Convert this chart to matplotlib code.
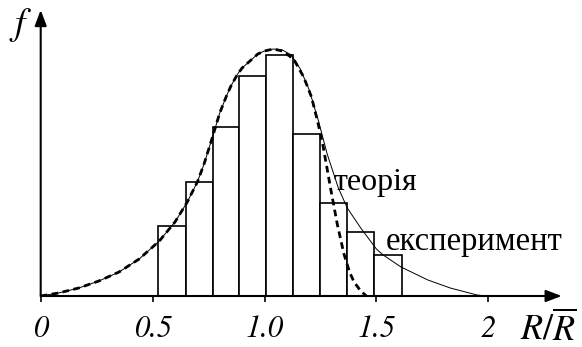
import numpy as np
import matplotlib
matplotlib.use('Agg')
import matplotlib.pyplot as plt

plt.rcParams['font.family'] = ['Liberation Serif', 'DejaVu Serif']
plt.rcParams['mathtext.fontset'] = 'stix'

# histogram (experiment)
bin_edges = [0.524, 0.648, 0.769, 0.885, 1.008, 1.126, 1.247, 1.369, 1.491, 1.615]
bar_heights = [0.70, 1.14, 1.69, 2.20, 2.41, 1.62, 0.93, 0.64, 0.41]

# thin solid curve
solid_x = [0.0, 0.08, 0.17, 0.26, 0.35, 0.44, 0.53, 0.60, 0.655, 0.70, 0.73, 0.769,
           0.80, 0.83, 0.85, 0.88, 0.90, 0.94, 0.97, 1.00, 1.04, 1.08, 1.12, 1.16,
           1.20, 1.24, 1.28, 1.33, 1.37, 1.43, 1.50, 1.53, 1.61, 1.73, 1.83, 1.95, 1.99]
solid_y = [0.0, 0.03, 0.08, 0.15, 0.24, 0.37, 0.55, 0.74, 0.94, 1.14, 1.32, 1.60,
           1.83, 2.00, 2.10, 2.22, 2.28, 2.36, 2.42, 2.45, 2.47, 2.46, 2.41, 2.27,
           2.06, 1.76, 1.42, 1.08, 0.88, 0.68, 0.47, 0.41, 0.29, 0.16, 0.08, 0.01, 0.0]

# thick dashed curve
dash_x = [0.0, 0.08, 0.17, 0.26, 0.35, 0.44, 0.53, 0.60, 0.655, 0.70, 0.73, 0.769,
          0.80, 0.83, 0.85, 0.88, 0.90, 0.94, 0.97, 1.00, 1.04, 1.08, 1.13, 1.175,
          1.21, 1.24, 1.26, 1.28, 1.295, 1.325, 1.355, 1.38, 1.40, 1.43, 1.455]
dash_y = [0.0, 0.03, 0.08, 0.15, 0.24, 0.37, 0.55, 0.74, 0.94, 1.14, 1.32, 1.60,
          1.83, 2.00, 2.10, 2.22, 2.28, 2.36, 2.42, 2.45, 2.47, 2.45, 2.37, 2.19,
          1.99, 1.72, 1.52, 1.27, 1.08, 0.72, 0.42, 0.24, 0.14, 0.05, 0.0]

tick_vals = [0, 0.5, 1.0, 1.5, 2]
tick_labels = ['0', '0.5', '1.0', '1.5', '2']

fig = plt.figure(figsize=(5.82, 3.47), dpi=100)
ax = fig.add_axes([40.7/582, 51/347, 521/582, 286/347])
ax.set_xlim(0, 521/223.8)
ax.set_ylim(0, 2.86)
for s in ax.spines.values():
  s.set_visible(False)

ax.bar(bin_edges[:-1], bar_heights, width=np.diff(bin_edges), align='edge',
       facecolor='white', edgecolor='black', lw=1.2, zorder=2)
ax.plot(solid_x, solid_y, color='black', lw=0.7, zorder=3)
ax.plot(dash_x, dash_y, color='black', lw=2.0, dashes=(2.4, 1.6), zorder=4)

arrow = dict(arrowstyle='-|>,head_length=0.95,head_width=0.36', color='black',
             lw=1.5, mutation_scale=10, shrinkA=0, shrinkB=0)
ax.annotate('', xy=(1, 0), xytext=(0, 0), xycoords='axes fraction', arrowprops=arrow, zorder=5)
ax.annotate('', xy=(0, 1), xytext=(0, 0), xycoords='axes fraction', arrowprops=arrow, zorder=5)

ax.set_xticks(tick_vals)
ax.set_xticklabels(tick_labels, fontsize=22, family='STIXGeneral', style='italic')
ax.tick_params(axis='x', direction='out', length=4, width=1.2, pad=10)
ax.set_yticks([])

ax.text(-0.088, 2.71, r'$f$', fontsize=27, ha='center', va='center')
ax.text(2.27, -0.33, r'$R/\overline{R}$', fontsize=26, ha='center', va='center', clip_on=False)
ax.text(1.308, 1.06, 'теорія', fontsize=23, ha='left', va='baseline')
ax.text(1.540, 0.46, 'експеримент', fontsize=23.5, ha='left', va='baseline')

fig.savefig('out.png', dpi=100)
